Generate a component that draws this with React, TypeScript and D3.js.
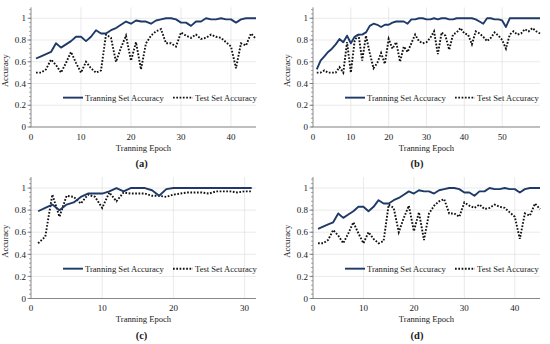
import * as d3 from 'd3';
import React from 'react';

// panel (a) and (d): 45 epochs
const trainA = [0.63, 0.65, 0.67, 0.69, 0.77, 0.73, 0.76, 0.79, 0.83, 0.83,
  0.79, 0.83, 0.89, 0.86, 0.86, 0.89, 0.91, 0.94, 0.97, 0.95,
  0.98, 0.97, 0.97, 0.95, 0.98, 0.99, 1.0, 1.0, 0.99, 0.96,
  0.96, 0.93, 0.97, 0.97, 1.0, 0.99, 0.99, 1.0, 0.99, 0.99,
  0.96, 0.99, 1.0, 1.0, 1.0];
const testA = [0.50, 0.50, 0.53, 0.62, 0.57, 0.50, 0.59, 0.69, 0.59, 0.50,
  0.60, 0.54, 0.50, 0.52, 0.85, 0.82, 0.60, 0.73, 0.84, 0.61,
  0.78, 0.53, 0.77, 0.84, 0.88, 0.90, 0.77, 0.77, 0.74, 0.87,
  0.84, 0.82, 0.85, 0.81, 0.82, 0.85, 0.83, 0.82, 0.78, 0.74,
  0.54, 0.77, 0.75, 0.86, 0.81];

// panel (b): 60 epochs
const trainB = [0.53, 0.61, 0.65, 0.69, 0.72, 0.76, 0.81, 0.78, 0.84, 0.77,
  0.83, 0.85, 0.85, 0.87, 0.93, 0.95, 0.94, 0.92, 0.94, 0.94,
  0.96, 0.97, 0.97, 0.97, 0.95, 0.99, 0.99, 1.0, 1.0, 0.99,
  0.99, 1.0, 0.99, 1.0, 1.0, 0.99, 0.99, 1.0, 1.0, 1.0,
  1.0, 1.0, 0.99, 0.97, 0.95, 1.0, 1.0, 0.99, 0.99, 0.98,
  0.92, 1.0, 1.0, 1.0, 1.0, 1.0, 1.0, 1.0, 1.0, 1.0];
const testB = [0.50, 0.50, 0.52, 0.50, 0.50, 0.50, 0.55, 0.50, 0.78, 0.50,
  0.79, 0.86, 0.61, 0.84, 0.68, 0.54, 0.59, 0.68, 0.58, 0.81,
  0.72, 0.78, 0.60, 0.74, 0.69, 0.77, 0.85, 0.79, 0.77, 0.78,
  0.82, 0.88, 0.67, 0.87, 0.84, 0.71, 0.85, 0.87, 0.91, 0.86,
  0.85, 0.76, 0.88, 0.86, 0.83, 0.79, 0.82, 0.87, 0.84, 0.80,
  0.72, 0.85, 0.88, 0.85, 0.86, 0.90, 0.88, 0.91, 0.88, 0.86];

// panel (c): 31 epochs
const trainC = [0.79, 0.82, 0.85, 0.80, 0.85, 0.87, 0.92, 0.95, 0.95, 0.95,
  0.97, 1.0, 0.97, 1.0, 1.0, 1.0, 0.98, 0.93, 0.99, 1.0,
  1.0, 1.0, 1.0, 1.0, 1.0, 1.0, 1.0, 1.0, 1.0, 1.0, 1.0];
const testC = [0.50, 0.56, 0.94, 0.74, 0.93, 0.92, 0.86, 0.94, 0.92, 0.82,
  0.96, 0.88, 0.96, 0.95, 0.95, 0.95, 0.93, 0.93, 0.92, 0.94,
  0.95, 0.96, 0.96, 0.96, 0.95, 0.97, 0.97, 0.97, 0.96, 0.97, 0.97];

const yTickValues = [0, 0.2, 0.4, 0.6, 0.8, 1];
const xTicksA = [0, 10, 20, 30, 40];
const xTicksB = [0, 10, 20, 30, 40, 50];
const xTicksC = [0, 10, 20, 30];

const FONT = "Liberation Serif";
const NAVY = "#1f3a68";

interface PanelProps {
  train: number[];
  test: number[];
  xMax: number;
  xTicks: number[];
  left: number;
  right: number;
  top: number;
  bottom: number;
  label: string;
  labelX: number;
}

const Panel = ({train, test, xMax, xTicks, left, right, top, bottom, label, labelX}: PanelProps) => {
  const x = d3.scaleLinear().domain([0, xMax]).range([left, right]);
  const y = d3.scaleLinear().domain([0, 1.1]).range([bottom, top]);
  const line = d3.line<number>().x((_, i) => x(i + 1)).y(d => y(d));
  const minor = d3.range(0, 1.1, 0.04);
  const fs = 8.6;

  // legend sits at about 0.27 on the y axis
  const ly = y(0.27);

  return (
    <g style={{fontFamily: FONT}} fill="#1a1a1a">
      {yTickValues.map(t => (
        <line key={'gy' + t} x1={left} x2={right} y1={y(t)} y2={y(t)} stroke="#dcdcdc" strokeWidth={0.6}/>
      ))}
      {xTicks.filter(t => t > 0).map(t => (
        <line key={'gx' + t} x1={x(t)} x2={x(t)} y1={bottom} y2={top} stroke="#dcdcdc" strokeWidth={0.6}/>
      ))}
      <line x1={left} x2={left} y1={bottom} y2={top} stroke="#6e6e6e" strokeWidth={0.8}/>
      <line x1={left} x2={right} y1={bottom} y2={bottom} stroke="#6e6e6e" strokeWidth={0.8}/>
      {minor.map(t => (
        <line key={'mt' + t} x1={left - 2} x2={left} y1={y(t)} y2={y(t)} stroke="#6e6e6e" strokeWidth={0.6}/>
      ))}
      {yTickValues.map(t => (
        <g key={'yt' + t}>
          <line x1={left - 3.5} x2={left} y1={y(t)} y2={y(t)} stroke="#6e6e6e" strokeWidth={0.8}/>
          <text x={left - 5} y={y(t) + 3.2} textAnchor="end" fontSize={9}>{t === 0 || t === 1 ? String(t) : t.toFixed(1)}</text>
        </g>
      ))}
      {xTicks.map(t => (
        <text key={'xt' + t} x={x(t)} y={bottom + 12.5} textAnchor="middle" fontSize={9}>{t}</text>
      ))}
      <text transform={`translate(${left - 23.5},${(y(0) + y(1)) / 2 - 2}) rotate(-90)`} textAnchor="middle" fontSize={fs}>Accuracy</text>
      <text x={(left + right) / 2} y={bottom + 23.5} textAnchor="middle" fontSize={fs}>Tranning Epoch</text>
      <text x={labelX} y={bottom + 40} textAnchor="middle" fontSize={10.5} fontWeight="bold">({label})</text>

      <path d={line(test) || ''} fill="none" stroke="#111" strokeWidth={1.9} strokeDasharray="1.7 1.6"/>
      <path d={line(train) || ''} fill="none" stroke={NAVY} strokeWidth={1.9} strokeLinejoin="round"/>

      <line x1={left + 32} x2={left + 52} y1={ly} y2={ly} stroke={NAVY} strokeWidth={1.9}/>
      <text x={left + 54} y={ly + 3} fontSize={fs}>Tranning Set Accuracy</text>
      <line x1={left + 142} x2={left + 162} y1={ly} y2={ly} stroke="#111" strokeWidth={1.9} strokeDasharray="1.7 1.6"/>
      <text x={left + 164} y={ly + 3} fontSize={fs}>Test Set Accuracy</text>
    </g>
  );
};

export default function App() {
  return (
    <div style={{position: 'absolute', left: 0, top: 0, background: '#fff'}}>
      <svg width={550} height={344} style={{display: 'block'}}>
        <rect width={550} height={344} fill="#fff"/>
        <Panel train={trainA} test={testA} xMax={45} xTicks={xTicksA}
               left={31} right={256} top={7.4} bottom={127} label="a" labelX={141.5}/>
        <Panel train={trainB} test={testB} xMax={60} xTicks={xTicksB}
               left={313} right={540} top={7.4} bottom={127} label="b" labelX={417}/>
        <Panel train={trainC} test={testC} xMax={31.6} xTicks={xTicksC}
               left={31} right={256} top={177} bottom={298.5} label="c" labelX={141.5}/>
        <Panel train={trainA} test={testA} xMax={45} xTicks={xTicksA}
               left={313} right={540} top={177} bottom={298.5} label="d" labelX={417}/>
      </svg>
    </div>
  );
}
